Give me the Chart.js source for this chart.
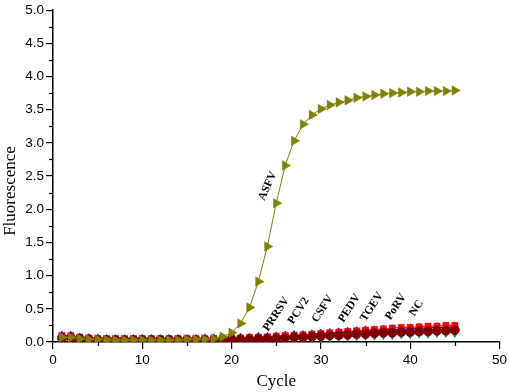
<!DOCTYPE html>
<html>
<head>
<meta charset="utf-8">
<script src="https://cdn.jsdelivr.net/npm/chart.js@4.4.1/dist/chart.umd.min.js"></script>
<style>
  html, body { margin: 0; padding: 0; background: #fff; }
  #wrap { width: 510px; height: 392px; }
</style>
</head>
<body>
<div id="wrap"><canvas id="c" width="510" height="392"></canvas></div>
<script>
const cycles = [1,2,3,4,5,6,7,8,9,10,11,12,13,14,15,16,17,18,19,20,21,22,23,24,25,26,27,28,29,30,31,32,33,34,35,36,37,38,39,40,41,42,43,44,45];

const ASFV  = [0.07,0.07,0.05,0.04,0.04,0.03,0.03,0.03,0.03,0.03,0.03,0.03,0.03,0.03,0.04,0.04,0.04,0.05,0.08,0.14,0.28,0.52,0.91,1.44,2.09,2.66,3.03,3.28,3.42,3.51,3.57,3.61,3.64,3.68,3.70,3.72,3.74,3.75,3.76,3.77,3.77,3.78,3.78,3.78,3.79];
const PRRSV = [0.09,0.09,0.07,0.06,0.05,0.05,0.05,0.05,0.05,0.05,0.05,0.05,0.05,0.05,0.05,0.05,0.05,0.05,0.05,0.06,0.06,0.07,0.07,0.08,0.09,0.10,0.10,0.11,0.12,0.13,0.14,0.15,0.16,0.17,0.18,0.19,0.20,0.21,0.22,0.22,0.23,0.24,0.24,0.25,0.25];
const PCV2  = [0.09,0.09,0.06,0.05,0.05,0.04,0.04,0.04,0.04,0.04,0.04,0.04,0.04,0.04,0.04,0.04,0.05,0.05,0.05,0.05,0.06,0.06,0.07,0.07,0.08,0.09,0.10,0.10,0.11,0.12,0.13,0.14,0.15,0.16,0.17,0.17,0.18,0.19,0.19,0.20,0.21,0.21,0.22,0.22,0.23];
const CSFV  = [0.10,0.10,0.07,0.06,0.05,0.05,0.05,0.05,0.05,0.05,0.05,0.05,0.05,0.05,0.05,0.05,0.05,0.05,0.05,0.06,0.06,0.06,0.07,0.07,0.08,0.09,0.10,0.10,0.11,0.12,0.13,0.14,0.15,0.16,0.16,0.17,0.18,0.19,0.19,0.20,0.21,0.21,0.22,0.22,0.23];
const PEDV  = [0.05,0.05,0.04,0.03,0.03,0.02,0.02,0.02,0.02,0.02,0.02,0.02,0.02,0.02,0.02,0.02,0.02,0.02,0.02,0.03,0.03,0.03,0.03,0.03,0.04,0.04,0.05,0.05,0.06,0.06,0.07,0.08,0.08,0.09,0.10,0.10,0.11,0.11,0.12,0.12,0.13,0.13,0.14,0.14,0.14];
const TGEV  = [0.07,0.07,0.06,0.05,0.04,0.04,0.04,0.04,0.04,0.04,0.04,0.04,0.04,0.04,0.04,0.04,0.04,0.04,0.04,0.05,0.05,0.05,0.06,0.06,0.07,0.07,0.08,0.08,0.09,0.10,0.11,0.11,0.12,0.13,0.14,0.14,0.15,0.16,0.16,0.17,0.17,0.18,0.18,0.19,0.19];
const PoRV  = [0.06,0.06,0.05,0.04,0.04,0.03,0.03,0.03,0.03,0.03,0.03,0.03,0.03,0.03,0.03,0.03,0.03,0.04,0.04,0.04,0.04,0.04,0.05,0.05,0.06,0.06,0.07,0.07,0.08,0.09,0.09,0.10,0.11,0.11,0.12,0.13,0.13,0.14,0.14,0.15,0.15,0.16,0.16,0.17,0.17];
const NC    = [0.06,0.06,0.05,0.04,0.03,0.03,0.03,0.03,0.03,0.03,0.03,0.03,0.03,0.03,0.03,0.03,0.03,0.03,0.04,0.04,0.04,0.04,0.05,0.05,0.05,0.06,0.07,0.07,0.08,0.09,0.10,0.10,0.11,0.12,0.12,0.13,0.14,0.14,0.15,0.15,0.16,0.16,0.17,0.17,0.18];

const seriesNames = ["ASFV","PRRSV","PCV2","CSFV","PEDV","TGEV","PoRV","NC"];
const labelCycle  = [24.05, 25.0, 27.5, 30.2, 33.2, 35.7, 38.4, 40.7];
const labelValue  = [2.35, 0.42, 0.47, 0.50, 0.51, 0.53, 0.53, 0.51];
const yTicks = [0,0.5,1,1.5,2,2.5,3,3.5,4,4.5,5];
const xTicks = [0,10,20,30,40,50];

function pts(arr){ return cycles.map((c,i)=>({x:c, y:arr[i]})); }

function ds(label, data, color, style, rot, radius, order){
  return {
    label, data: pts(data), borderColor: color, backgroundColor: color,
    pointBackgroundColor: color, pointBorderColor: color, pointBorderWidth: 0.5,
    pointStyle: style, pointRotation: rot, pointRadius: radius, pointHoverRadius: radius,
    borderWidth: 1, showLine: true, tension: 0, order
  };
}

const datasets = [
  ds("ASFV",  ASFV,  "#808000", "triangle", 90, 5.5, 0),
  ds("NC",    NC,    "#800000", "circle",   0, 4.6, 1),
  ds("PoRV",  PoRV,  "#7a2a9a", "rect",     0, 3.8, 7),
  ds("TGEV",  TGEV,  "#1f3fb0", "rectRot",  0, 4.3, 6),
  ds("PEDV",  PEDV,  "#008080", "triangle", 180, 5, 5),
  ds("CSFV",  CSFV,  "#ff00ff", "rect",     0, 4.3, 4),
  ds("PCV2",  PCV2,  "#0000ff", "triangle", 0, 5,   3),
  ds("PRRSV", PRRSV, "#ff0000", "rect",     0, 4.3, 2)
];

const extras = {
  id: 'extras',
  afterDraw(chart){
    const ctx = chart.ctx;
    const xs = chart.scales.x, ys = chart.scales.y;
    const ca = chart.chartArea;
    ctx.save();
    ctx.strokeStyle = '#000'; ctx.lineWidth = 1.2;
    for (let i = 0; i < yTicks.length - 1; i++) {
      const v = (yTicks[i] + yTicks[i+1]) / 2;
      const py = Math.round(ys.getPixelForValue(v)) + 0.5;
      ctx.beginPath(); ctx.moveTo(ca.left - 4, py); ctx.lineTo(ca.left, py); ctx.stroke();
    }
    for (let i = 0; i < xTicks.length - 1; i++) {
      const v = (xTicks[i] + xTicks[i+1]) / 2;
      const px = Math.round(xs.getPixelForValue(v)) + 0.5;
      ctx.beginPath(); ctx.moveTo(px, ca.bottom); ctx.lineTo(px, ca.bottom + 4); ctx.stroke();
    }
    ctx.fillStyle = '#000';
    ctx.font = 'bold 11.5px "Liberation Serif", "Times New Roman", serif';
    ctx.textAlign = 'center'; ctx.textBaseline = 'middle';
    seriesNames.forEach((n, i) => {
      const px = xs.getPixelForValue(labelCycle[i]);
      const py = ys.getPixelForValue(labelValue[i]);
      ctx.save();
      ctx.translate(px, py);
      ctx.rotate((i === 0 ? -66 : -57) * Math.PI / 180);
      ctx.fillText(n, 0, 0);
      ctx.restore();
    });
    ctx.font = '17px "Liberation Serif", "Times New Roman", serif';
    ctx.fillText('Cycle', (ca.left + ca.right) / 2, 382);
    ctx.save();
    ctx.translate(11, 191);
    ctx.rotate(-Math.PI / 2);
    ctx.fillText('Fluorescence', 0, 0);
    ctx.restore();
    ctx.restore();
  }
};

new Chart(document.getElementById('c'), {
  type: 'scatter',
  data: { datasets },
  plugins: [extras],
  options: {
    responsive: false,
    animation: false,
    devicePixelRatio: 1,
    layout: { padding: { top: 8, right: 8, left: 0, bottom: 0 } },
    plugins: { legend: { display: false }, tooltip: { enabled: false } },
    scales: {
      x: {
        type: 'linear', min: 0, max: 50,
        afterFit(s){ s.height = 50; },
        afterBuildTicks(s){ s.ticks = xTicks.map(v => ({value: v})); },
        ticks: { color: '#000', padding: 3, font: { family: '"Liberation Sans", Arial, sans-serif', size: 13.5 }, maxRotation: 0,
                 callback: v => String(v) },
        grid: { drawOnChartArea: false, drawTicks: true, tickLength: 7, color: '#000', lineWidth: 1.2 },
        border: { display: true, color: '#000', width: 1.5 }
      },
      y: {
        type: 'linear', min: 0, max: 5,
        afterFit(s){ s.width = 53; },
        afterBuildTicks(s){ s.ticks = yTicks.map(v => ({value: v})); },
        ticks: { color: '#000', padding: 2, font: { family: '"Liberation Sans", Arial, sans-serif', size: 13.5 },
                 callback: v => Number(v).toFixed(1) },
        grid: { drawOnChartArea: false, drawTicks: true, tickLength: 7, color: '#000', lineWidth: 1.2 },
        border: { display: true, color: '#000', width: 1.5 }
      }
    }
  }
});
</script>
</body>
</html>
